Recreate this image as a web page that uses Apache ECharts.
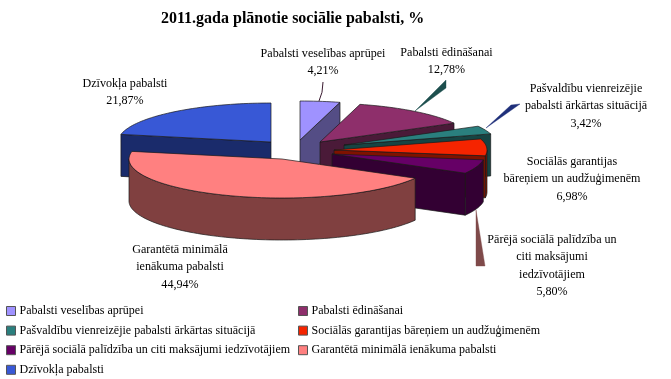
<!DOCTYPE html>
<html><head><meta charset="utf-8">
<style>html,body{margin:0;padding:0;background:#fff}#c{width:671px;height:379px}</style>
<script src="https://cdn.jsdelivr.net/npm/echarts@6/dist/echarts.min.js"></script>
</head><body><div id="c"></div>
<script>
const titleText = '2011.gada plānotie sociālie pabalsti, %';
const categories = ['Pabalsti veselības aprūpei','Pabalsti ēdināšanai','Pašvaldību vienreizējie pabalsti ārkārtas situācijā','Sociālās garantijas bāreņiem un audžuģimenēm','Pārējā sociālā palīdzība un citi maksājumi iedzīvotājiem','Garantētā minimālā ienākuma pabalsti','Dzīvokļa pabalsti'];
const values = [4.21,12.78,3.42,6.98,5.80,44.94,21.87];
const labelLines = [['Pabalsti veselības aprūpei'],['Pabalsti ēdināšanai'],['Pašvaldību vienreizējie','pabalsti ārkārtas situācijā'],['Sociālās garantijas','bāreņiem un audžuģimenēm'],['Pārējā sociālā palīdzība un','citi maksājumi','iedzīvotājiem'],['Garantētā minimālā','ienākuma pabalsti'],['Dzīvokļa pabalsti']];
const topColors = ['#9F92FF','#8E2F6B','#2A7F7E','#F52400','#660066','#FF8080','#3858D6'];
const sideColors = ['#544D85','#4A1A38','#164443','#7F1200','#330033','#804040','#1A2B6B'];

// layout of the exploded 3D pie
const RX = 153, RY = 39, DEPTH = 42;
const apexes = [[300,140],[320,142],[344,145],[334,150],[332,154],[282,159],[271,142]];
const labelPos = [[323,54],[446.5,53],[586,89],[572,162],[552,240],[180,250],[125,84]];
const LINE_H = 17.3;
const leaders = {
  1:{color:'#1D4F4E',pts:[[415,111],[446,80],[446,88]]},
  2:{color:'#1F2F7A',pts:[[486,128],[520,104],[511,105]]},
  4:{color:'#7F4A4A',pts:[[476,210],[476,266],[485,266]]}
};
const thinLeader = {color:'#3A1A30',from:[319,101],to:[323,82],ctrl:[323,93]};

const EDGE = '#1a1a1a';
let cum = 0;
const spans = values.map(v => { const s = cum; cum += v; return [s/100*2*Math.PI, cum/100*2*Math.PI]; });

function rimPoint(c, a, dy){ return [c[0]+RX*Math.sin(a), c[1]-RY*Math.cos(a)+(dy||0)]; }
function arc(c, a0, a1, dy){
  const n = Math.max(2, Math.ceil((a1-a0)/0.03)), out=[];
  for(let i=0;i<=n;i++) out.push(rimPoint(c, a0+(a1-a0)*i/n, dy));
  return out;
}
function face(points, fill){
  return {type:'polygon', shape:{points}, silent:true,
    style:{fill, stroke:EDGE, lineWidth:0.7, lineJoin:'round'}};
}
function sliceRender(i){
  return function(){
    const c = apexes[i], [a0,a1] = spans[i], ch = [], side = sideColors[i];
    const cd = [c[0], c[1]+DEPTH];
    // rim: only the part that faces the viewer
    const f0 = Math.max(a0, Math.PI/2), f1 = Math.min(a1, 3*Math.PI/2);
    if (f1 > f0) ch.push(face(arc(c,f0,f1).concat(arc(c,f0,f1,DEPTH).reverse()), side));
    // cut faces that face the viewer
    const pS = rimPoint(c,a0), pE = rimPoint(c,a1);
    if (Math.sin(a0) < 0) ch.push(face([c,pS,[pS[0],pS[1]+DEPTH],cd], side));
    if (Math.sin(a1) > 0) ch.push(face([c,pE,[pE[0],pE[1]+DEPTH],cd], side));
    // top
    ch.push(face([c].concat(arc(c,a0,a1)), topColors[i]));
    if (leaders[i]) ch.push({type:'polygon',shape:{points:leaders[i].pts},silent:true,style:{fill:leaders[i].color,stroke:leaders[i].color,lineWidth:0.4}});
    if (i===0) ch.push({type:'bezierCurve',shape:{x1:thinLeader.from[0],y1:thinLeader.from[1],x2:thinLeader.to[0],y2:thinLeader.to[1],cpx1:thinLeader.ctrl[0],cpy1:thinLeader.ctrl[1]},silent:true,style:{stroke:thinLeader.color,lineWidth:1,fill:'none'}});
    return {type:'group',children:ch};
  };
}
const drawOrder = [6,0,1,2,3,4,5];
const series = drawOrder.map((i,k)=>({
  type:'custom', name:categories[i], coordinateSystem:'none', z:2+k*0.01,
  data:[[values[i]]], renderItem:sliceRender(i),
  itemStyle:{color:topColors[i]}, animation:false, silent:true
}));

const FONT = '"Liberation Serif","Times New Roman",serif';
const texts = [];
labelLines.forEach((lines,i)=>{
  const all = lines.concat([values[i].toFixed(2).replace('.',',')+'%']);
  all.forEach((t,j)=>texts.push({type:'text',silent:true,x:labelPos[i][0],y:labelPos[i][1]+j*LINE_H,
    style:{text:t,fill:'#000',font:'12.1px '+FONT,textAlign:'center',textVerticalAlign:'middle'}}));
});
function legend(left, idx){
  return {show:true, orient:'vertical', left, top:305, padding:0, itemGap:7.6, itemWidth:9, itemHeight:9,
    icon:'rect', selectedMode:false, data:idx.map(i=>categories[i]), align:'left',
    itemStyle:{borderColor:'#555',borderWidth:1},
    textStyle:{color:'#000',fontFamily:'Liberation Serif',fontSize:12,lineHeight:12,padding:[0,0,0,-1]}};
}
const chart = echarts.init(document.getElementById('c'),null,{renderer:'canvas'});
chart.setOption({
  animation:false, backgroundColor:'#fff',
  title:{text:titleText,left:161,top:11,padding:0,textStyle:{color:'#000',fontFamily:'Liberation Serif',fontWeight:'bold',fontSize:16}},
  legend:[legend(6,[0,2,4,6]),legend(298,[1,3,5])],
  graphic:{elements:texts},
  series
});
</script></body></html>
